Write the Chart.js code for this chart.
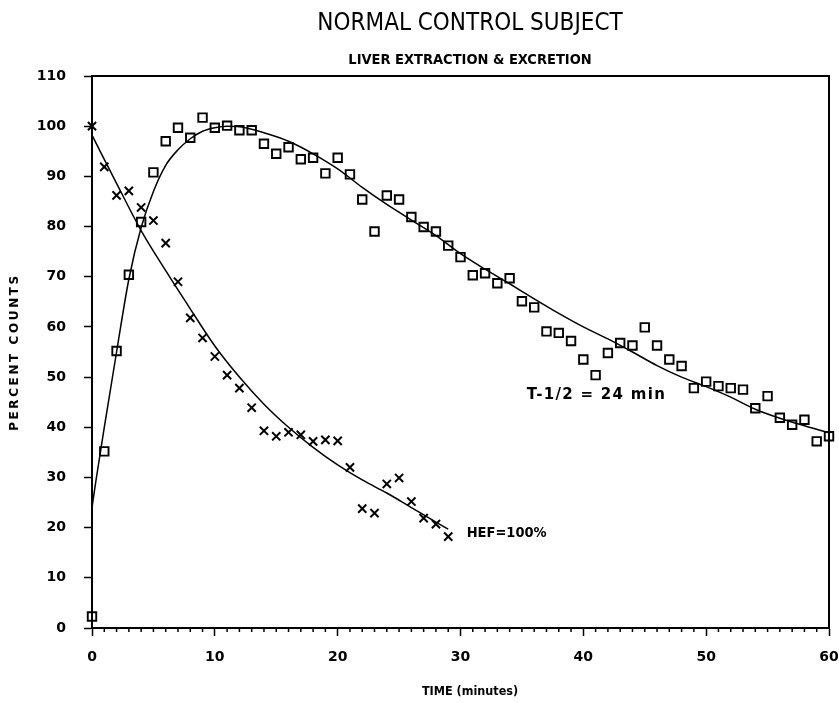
<!DOCTYPE html>
<html>
<head>
<meta charset="utf-8">
<script src="https://cdn.jsdelivr.net/npm/chart.js@4.4.1/dist/chart.umd.min.js"></script>
<style>
  html, body { margin: 0; padding: 0; background: #fff; }
</style>
</head>
<body>
<canvas id="chart" width="839" height="703"></canvas>
<script>
// extraction (squares), one reading per minute
var extractTimes = [0, 1, 2, 3, 4, 5, 6, 7, 8, 9, 10, 11, 12, 13, 14, 15, 16, 17, 18, 19, 20,
  21, 22, 23, 24, 25, 26, 27, 28, 29, 30, 31, 32, 33, 34, 35, 36, 37, 38, 39, 40,
  41, 42, 43, 44, 45, 46, 47, 48, 49, 50, 51, 52, 53, 54, 55, 56, 57, 58, 59, 60];
var extractCounts = [2.3, 35.2, 55.2, 70.4, 80.9, 90.8, 97.0, 99.7, 97.7, 101.7, 99.7,
  100.1, 99.2, 99.2, 96.5, 94.5, 95.8, 93.4, 93.7, 90.6, 93.7,
  90.4, 85.4, 79.0, 86.2, 85.4, 81.9, 79.9, 79.0, 76.2, 73.9,
  70.3, 70.7, 68.7, 69.7, 65.1, 63.9, 59.1, 58.8, 57.2, 53.5,
  50.4, 54.8, 56.8, 56.3, 59.9, 56.3, 53.5, 52.2, 47.8, 49.1,
  48.2, 47.8, 47.5, 43.8, 46.2, 41.9, 40.5, 41.5, 37.2, 38.2];

// excretion (crosses)
var excreteTimes = [0, 1, 2, 3, 4, 5, 6, 7, 8, 9, 10, 11, 12, 13, 14, 15, 16, 17, 18, 19,
  20, 21, 22, 23, 24, 25, 26, 27, 28, 29];
var excreteCounts = [100, 91.9, 86.2, 87.1, 83.8, 81.2, 76.7, 69.0, 61.8, 57.8,
  54.1, 50.4, 47.8, 43.9, 39.3, 38.2, 39.0, 38.5, 37.2, 37.5,
  37.3, 32.0, 23.8, 22.9, 28.7, 29.9, 25.2, 21.9, 20.7, 18.2];

// fitted curves as drawn on the original
var extractFitTimes = [0, 0.3, 1, 2, 3, 4, 5, 6, 7, 8, 9, 10, 11, 12, 13, 14, 16, 18, 20, 22,
  24, 26, 28, 30, 32, 34, 36, 38, 40, 42, 44, 46, 48, 50, 52, 54, 56, 58, 60];
var extractFitCounts = [24, 29, 40, 55, 69.5, 79.8, 87, 92.2, 95.3, 97.5, 99.0, 99.7, 100, 99.9, 99.4, 98.7, 97, 94.5, 91.5, 87.8,
  84.4, 81.3, 78.2, 74.6, 71.5, 68.6, 65.6, 62.7, 60.0, 57.6, 55.0, 52.3, 50.0, 48.1, 46.0, 43.6, 41.8, 40.3, 38.9];

var excreteFitTimes = [0, 2, 4, 6, 8, 10, 12, 14, 16, 18, 20, 22, 24, 26, 28, 29];
var excreteFitCounts = [98.2, 88.6, 79.2, 71.2, 63.6, 56.2, 50.0, 44.6, 40.0, 36.0, 32.5, 29.5, 26.9, 24.0, 21.1, 19.7];

var yTicks = [0, 10, 20, 30, 40, 50, 60, 70, 80, 90, 100, 110];

function pairs(xs, ys) {
  var out = [];
  for (var i = 0; i < xs.length; i++) {
    out.push({x: xs[i], y: ys[i]});
  }
  return out;
}

var paperPlugin = {
  id: 'paper',
  afterDraw: function(chart) {
    var ctx = chart.ctx;
    var area = chart.chartArea;
    var xs = chart.scales.x;
    var ys = chart.scales.y;
    ctx.save();
    ctx.strokeStyle = '#000';

    // top and right frame
    ctx.lineWidth = 2;
    ctx.beginPath();
    ctx.moveTo(area.left, area.top);
    ctx.lineTo(area.right, area.top);
    ctx.lineTo(area.right, area.bottom);
    ctx.stroke();

    // minor ticks every minute
    ctx.lineWidth = 1.5;
    xs.ticks.forEach(function(t) {
      if (t.value % 10 !== 0) {
        var px = xs.getPixelForValue(t.value);
        ctx.beginPath();
        ctx.moveTo(px, area.bottom);
        ctx.lineTo(px, area.bottom + 4);
        ctx.stroke();
      }
    });

    ctx.fillStyle = '#000';
    ctx.textBaseline = 'alphabetic';

    ctx.textAlign = 'center';
    ctx.font = '24px "DejaVu Sans Condensed", "DejaVu Sans"';
    ctx.fillText('NORMAL CONTROL SUBJECT', 470, 30);

    ctx.font = 'bold 14.5px "DejaVu Sans Condensed", "DejaVu Sans"';
    ctx.fillText('LIVER EXTRACTION & EXCRETION', 470, 64);

    ctx.font = 'bold 12.5px "DejaVu Sans Condensed", "DejaVu Sans"';
    ctx.fillText('TIME (minutes)', 470, 695);

    // y title, spaced out
    ctx.save();
    ctx.translate(18, (area.top + area.bottom) / 2);
    ctx.rotate(-Math.PI / 2);
    ctx.letterSpacing = '2.6px';
    ctx.font = 'bold 12px "DejaVu Sans"';
    ctx.fillText('PERCENT COUNTS', 0, 0);
    ctx.restore();

    // curve notes
    ctx.textAlign = 'left';
    ctx.letterSpacing = '1.3px';
    ctx.font = 'bold 15px "DejaVu Sans"';
    ctx.fillText('T-1/2 = 24 min', xs.getPixelForValue(35.4), ys.getPixelForValue(45.6));
    ctx.letterSpacing = '0px';
    ctx.font = 'bold 14.5px "DejaVu Sans Condensed", "DejaVu Sans"';
    ctx.fillText('HEF=100%', xs.getPixelForValue(30.5), ys.getPixelForValue(18.1));

    ctx.restore();
  }
};

var tickFont = {family: 'DejaVu Sans', weight: 'bold', size: 14};

var ctx = document.getElementById('chart').getContext('2d');
var chart = new Chart(ctx, {
  type: 'scatter',
  data: {
    datasets: [{
      label: 'extraction fit',
      data: pairs(extractFitTimes, extractFitCounts),
      showLine: true,
      borderColor: '#000',
      borderWidth: 1.5,
      pointRadius: 0,
      cubicInterpolationMode: 'monotone'
    }, {
      label: 'excretion fit',
      data: pairs(excreteFitTimes, excreteFitCounts),
      showLine: true,
      borderColor: '#000',
      borderWidth: 1.5,
      pointRadius: 0,
      cubicInterpolationMode: 'monotone'
    }, {
      label: 'extraction',
      data: pairs(extractTimes, extractCounts),
      pointStyle: 'rect',
      pointRadius: 6,
      pointBorderWidth: 1.9,
      pointBorderColor: '#000',
      pointBackgroundColor: 'rgba(0,0,0,0)',
      clip: false
    }, {
      label: 'excretion',
      data: pairs(excreteTimes, excreteCounts),
      pointStyle: 'crossRot',
      pointRadius: 5.8,
      pointBorderWidth: 2,
      pointBorderColor: '#000',
      clip: false
    }]
  },
  options: {
    responsive: false,
    animation: false,
    layout: {padding: {top: 76, right: 10, left: 0, bottom: 0}},
    plugins: {
      legend: {display: false},
      tooltip: {enabled: false}
    },
    scales: {
      x: {
        type: 'linear',
        min: 0,
        max: 60,
        afterFit: function(axis) {
          axis.height = 75;
          axis.paddingLeft = 0;
          axis.paddingRight = 0;
        },
        border: {color: '#000', width: 2},
        grid: {
          drawOnChartArea: false,
          tickLength: 8,
          tickWidth: 1.5,
          tickColor: function(c) {
            return (c.tick && c.tick.value % 10 === 0) ? '#000' : 'rgba(0,0,0,0)';
          }
        },
        ticks: {
          stepSize: 1,
          autoSkip: false,
          maxRotation: 0,
          padding: 13,
          color: '#000',
          font: tickFont,
          callback: function(v) { return v % 10 === 0 ? v : ''; }
        }
      },
      y: {
        min: 0,
        max: 110,
        afterFit: function(axis) {
          axis.width = 92;
          axis.paddingTop = 0;
          axis.paddingBottom = 0;
        },
        afterBuildTicks: function(axis) {
          axis.ticks = yTicks.map(function(v) { return {value: v}; });
        },
        border: {color: '#000', width: 2},
        grid: {
          drawOnChartArea: false,
          tickLength: 8,
          tickWidth: 1.5,
          tickColor: '#000'
        },
        ticks: {
          padding: 18,
          color: '#000',
          font: tickFont
        }
      }
    }
  },
  plugins: [paperPlugin]
});
</script>
</body>
</html>
